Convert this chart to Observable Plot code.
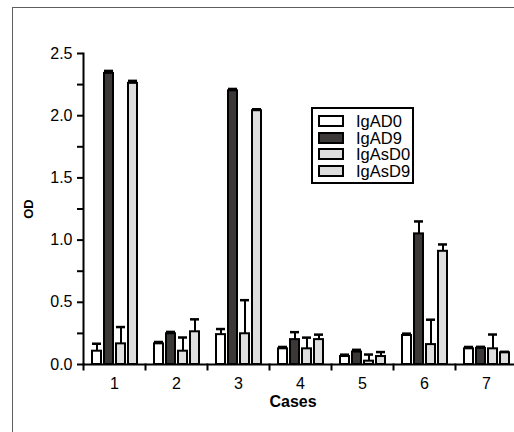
<!DOCTYPE html>
<html>
<head>
<meta charset="utf-8">
<script src="https://cdn.jsdelivr.net/npm/d3@7"></script>
<script src="https://cdn.jsdelivr.net/npm/@observablehq/plot@0.6"></script>
<style>
  html, body { margin: 0; padding: 0; background: white; overflow: hidden; }
  #wrap { position: relative; width: 514px; height: 432px; overflow: hidden; background: white; }
  #border { position: absolute; left: 12px; top: 7px; width: 600px; height: 500px; border: 1.5px solid #5e5e5e; box-sizing: border-box; }
  #chart { position: absolute; left: 0; top: 0; }
  #legend { position: absolute; left: 311px; top: 107px; width: 103px; height: 77px; box-sizing: border-box;
            border: 2px solid black; background: white; padding-top: 4px;
            font-family: "Liberation Sans", Arial, sans-serif; font-size: 16.5px; }
  .row { display: flex; align-items: center; height: 16.5px; }
  .sw { width: 22px; height: 8px; border: 2px solid black; margin-left: 5px; margin-right: 12px; flex: none; }
  .lab { display: inline-block; line-height: 16px; height: 16px; overflow: visible; }
</style>
</head>
<body>
<div id="wrap">
  <div id="border"></div>
  <div id="chart"></div>
  <div id="legend"></div>
</div>
<script>
const cases = ["1", "2", "3", "4", "5", "6", "7"];
const series = ["IgAD0", "IgAD9", "IgAsD0", "IgAsD9"];
const colors = ["#ffffff", "#3d3838", "#dedede", "#dedede"];

const igAD0 = [0.107, 0.166, 0.24, 0.126, 0.064, 0.233, 0.126];
const igAD0Sd = [0.06, 0.015, 0.045, 0.015, 0.015, 0.015, 0.015];
const igAD9 = [2.34, 0.247, 2.20, 0.20, 0.10, 1.05, 0.13];
const igAD9Sd = [0.02, 0.015, 0.015, 0.06, 0.018, 0.10, 0.012];
const igAsD0 = [0.166, 0.107, 0.247, 0.126, 0.027, 0.16, 0.126];
const igAsD0Sd = [0.135, 0.11, 0.27, 0.09, 0.053, 0.2, 0.115];
const igAsD9 = [2.26, 0.263, 2.04, 0.20, 0.064, 0.91, 0.094];
const igAsD9Sd = [0.02, 0.1, 0.012, 0.04, 0.036, 0.055, 0.008];

const yTicks = [0, 0.25, 0.5, 0.75, 1, 1.25, 1.5, 1.75, 2, 2.25, 2.5];
const yLabelTicks = [0, 0.5, 1, 1.5, 2, 2.5];

const valueSets = [igAD0, igAD9, igAsD0, igAsD9];
const sdSets = [igAD0Sd, igAD9Sd, igAsD0Sd, igAsD9Sd];
const data = [];
cases.forEach((c, ci) => {
  series.forEach((s, si) => {
    data.push({case: c, series: s, value: valueSets[si][ci], sd: sdSets[si][ci]});
  });
});

const tickSymbol = {draw(ctx, size) { ctx.moveTo(0, -1); ctx.lineTo(0, 6); }};

const plot = Plot.plot({
  width: 520,
  height: 432,
  marginLeft: 80,
  marginRight: 0,
  marginTop: 53,
  marginBottom: 68,
  style: {fontFamily: "'Liberation Sans', Arial, sans-serif", fontSize: "16px", color: "black", background: "transparent", overflow: "visible", maxWidth: "none"},
  fx: {domain: cases, padding: 0, axis: null, label: null},
  x: {domain: series, paddingInner: 0.27, paddingOuter: 0.55, axis: null},
  y: {domain: [0, 2.5], axis: null},
  color: {domain: series, range: colors},
  marks: [
    Plot.axisFx({anchor: "bottom", tickSize: 0, tickPadding: 13, label: null, fontSize: 16}),
    Plot.axisY({ticks: yTicks, tickSize: 6, tickPadding: 5, strokeWidth: 2,
      tickFormat: d => yLabelTicks.includes(d) ? d.toFixed(1) : "", label: null, fontSize: 16}),
    Plot.axisY({ticks: [], label: "OD", labelAnchor: "center", labelOffset: 60, labelArrow: "none", fontWeight: "bold", fontSize: 13}),
    Plot.barY(data, {fx: "case", x: "series", y: "value", fill: "series", stroke: "black", strokeWidth: 2}),
    Plot.ruleX(data, {fx: "case", x: "series", y1: "value", y2: d => d.value + d.sd, stroke: "black", strokeWidth: 2}),
    Plot.tickY(data, {fx: "case", x: "series", y: d => d.value + d.sd, stroke: "black", strokeWidth: 2.5}),
    Plot.ruleY([0], {stroke: "black", strokeWidth: 2}),
    Plot.frame({anchor: "left", facetAnchor: "left", stroke: "black", strokeWidth: 2}),
    Plot.dot([0], {frameAnchor: "bottom-left", symbol: tickSymbol, stroke: "black", strokeWidth: 2, fill: "none"}),
    Plot.text(["Cases"], {fx: () => "4", frameAnchor: "bottom-left", lineAnchor: "middle", dy: 37, fontWeight: "bold", fontSize: 16})
  ]
});
document.getElementById("chart").appendChild(plot);

const legend = document.getElementById("legend");
series.forEach((s, i) => {
  const row = document.createElement("div");
  row.className = "row";
  const sw = document.createElement("div");
  sw.className = "sw";
  sw.style.background = colors[i];
  const t = document.createElement("span");
  t.className = "lab";
  t.textContent = s;
  row.appendChild(sw);
  row.appendChild(t);
  legend.appendChild(row);
});
</script>
</body>
</html>
